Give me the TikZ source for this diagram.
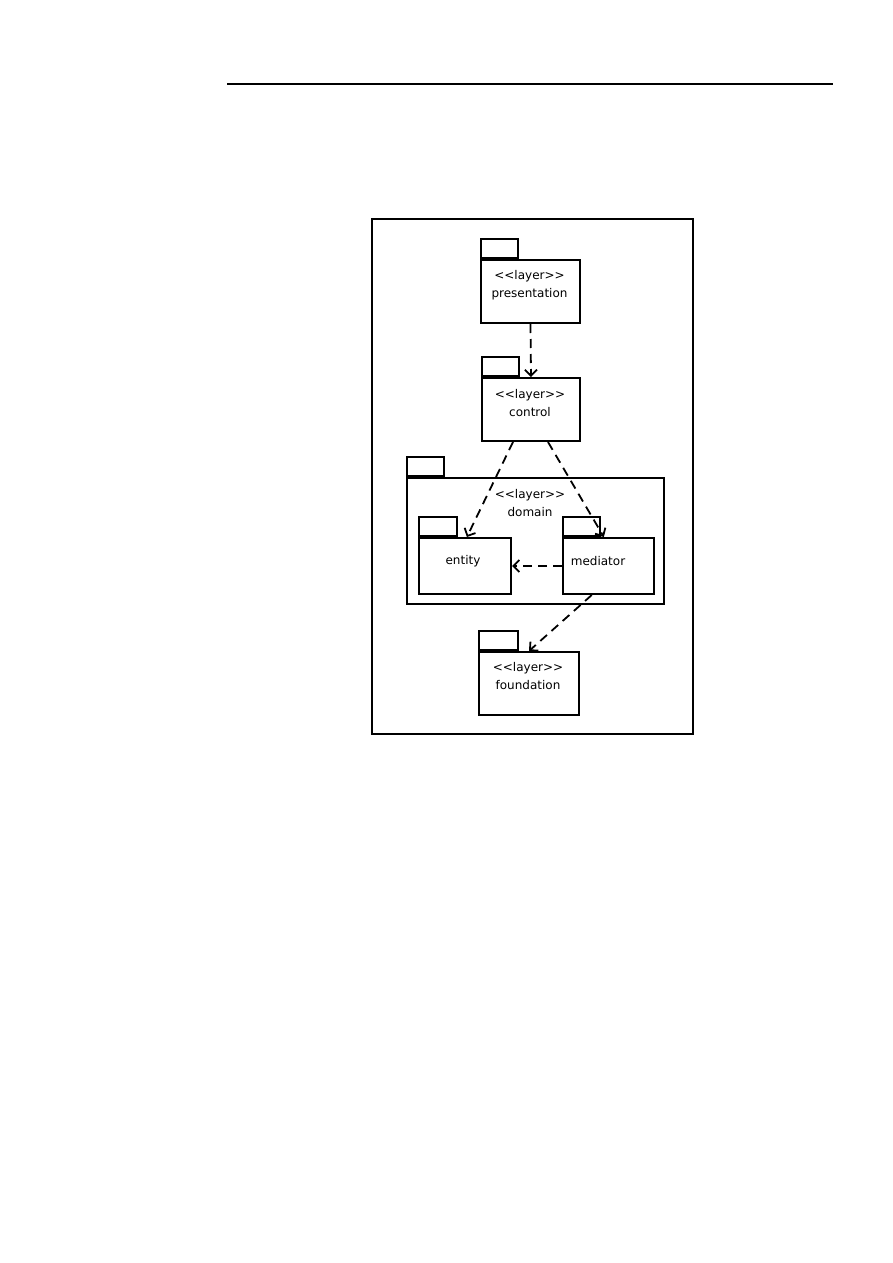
\documentclass[tikz,border=0pt]{standalone}
\usepackage{fontspec}
\setmainfont[Ligatures=TeXOff]{DejaVu Sans}
\usetikzlibrary{arrows.meta,calc}
\begin{document}
\begin{tikzpicture}[x=0.5pt,y=-0.5pt,
  body/.style={draw, line width=1pt, rectangle, inner sep=0pt, anchor=north west},
  tab/.style={draw, line width=1pt, rectangle, inner sep=0pt, anchor=south west, minimum height=9.5pt},
  lbl/.style={font=\fontsize{6}{9}\selectfont, align=center, inner sep=0pt},
  dep/.style={line width=0.9pt, dash pattern=on 4.5pt off 3pt, -{Straight Barb[length=3pt,width=6pt,line width=0.9pt]}},
  frm/.style={draw, line width=1pt, rectangle, inner sep=0pt, anchor=north west}]
\useasboundingbox (0,0) rectangle (893,1263);
\coordinate (rl) at (227,84);
\coordinate (rr) at (833,84);
\draw[line width=0.75pt] (rl) -- (rr);
\node[frm, minimum width=160.5pt, minimum height=257.5pt] (frame) at (371,218) {};
% presentation
\node[body, minimum width=49.5pt, minimum height=31.5pt] (pres) at (480,259) {};
\node[tab, minimum width=18.5pt] (prestab) at (pres.north west) {};
\node[lbl] (prestxt) at (529.5,285) {<<layer>>\\presentation};
% control
\node[body, minimum width=49pt, minimum height=31.5pt] (ctrl) at (481,377) {};
\node[tab, minimum width=18.5pt] (ctrltab) at (ctrl.north west) {};
\node[lbl] (ctrltxt) at (530,403) {<<layer>>\\control};
% domain
\node[body, minimum width=128.5pt, minimum height=63pt] (dom) at (406,477) {};
\node[tab, minimum width=18.5pt] (domtab) at (dom.north west) {};
\node[lbl] (domtxt) at (530,503) {<<layer>>\\domain};
% entity
\node[body, minimum width=46pt, minimum height=28pt] (ent) at (418,537) {};
\node[tab, minimum width=19pt] (enttab) at (ent.north west) {};
\node[lbl] (enttxt) at (463,561) {entity};
% mediator
\node[body, minimum width=45.5pt, minimum height=28pt] (med) at (562,537) {};
\node[tab, minimum width=18.5pt] (medtab) at (med.north west) {};
\node[lbl] (medtxt) at (598,561) {mediator};
% foundation
\node[body, minimum width=50pt, minimum height=31.5pt] (fnd) at (478,651) {};
\node[tab, minimum width=19.5pt] (fndtab) at (fnd.north west) {};
\node[lbl] (fndtxt) at (528,676.5) {<<layer>>\\foundation};
% dependencies
\draw[dep] (pres.south) -- (ctrl.north);
\draw[dep] ($(ctrl.south west)!0.32!(ctrl.south east)$) -- ($(ent.north west)!0.52!(ent.north east)$);
\draw[dep] ($(ctrl.south west)!0.67!(ctrl.south east)$) -- ($(med.north west)!0.45!(med.north east)$);
\draw[dep] (med.west) -- (ent.east);
\draw[dep] ($(med.south west)!0.32!(med.south east)$) -- (fnd.north);
\end{tikzpicture}
\end{document}
